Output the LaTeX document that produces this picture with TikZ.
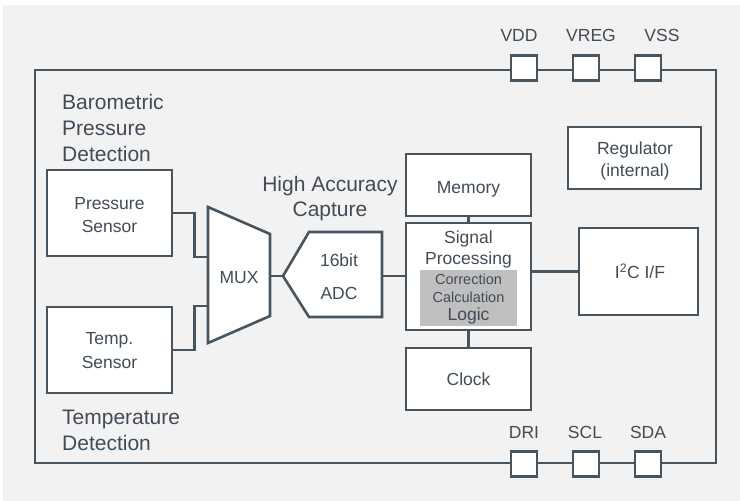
\documentclass[tikz,border=0pt]{standalone}
\usepackage{fontspec}
\setmainfont{Liberation Sans}
\definecolor{ink}{HTML}{48545E}
\definecolor{txt}{HTML}{424C56}
\definecolor{bg}{HTML}{F2F2F2}
\definecolor{logicfill}{HTML}{BFBFBF}
\begin{document}
\begin{tikzpicture}[x=1pt,y=-1pt,
  every node/.style={text=txt, inner sep=0pt},
  % text nodes are placed by the centre of their capital letters
  tx/.style={font=\fontsize{17.5}{23}\selectfont, anchor=base, yshift=-6.3pt},
  tl/.style={font=\fontsize{21}{26}\selectfont, anchor=base, yshift=-7.5pt},
  tlw/.style={tl, anchor=base west},
  ts/.style={font=\fontsize{14.5}{18}\selectfont, anchor=base, yshift=-5.2pt},
  blk/.style={draw=ink, line width=2.6pt, fill=white},
  padbox/.style={draw=ink, line width=2.6pt, fill=white, minimum width=26pt, minimum height=25pt},
  wire/.style={draw=ink, line width=2.6pt}
]
\useasboundingbox (0,0) rectangle (740,501);
\fill[bg] (3,5) rectangle (740,501);

% chip outline
\draw[ink, line width=2.8pt] (35,70) rectangle (716,463);

% supply pads (top edge)
\node[padbox] (vdd) at (524,68) {};
\node[padbox] (vreg) at (586,68) {};
\node[padbox] (vss) at (648,68) {};
\node[tx] (vddl) at (519,35) {VDD};
\node[tx] (vregl) at (591,35) {VREG};
\node[tx] (vssl) at (662,35) {VSS};

% interface pads (bottom edge)
\node[padbox] (dri) at (524,464) {};
\node[padbox] (scl) at (586,464) {};
\node[padbox] (sda) at (648,464) {};
\node[tx] (dril) at (524,432) {DRI};
\node[tx] (scll) at (585,432) {SCL};
\node[tx] (sdal) at (648,432) {SDA};

% region labels
\node[tlw] (bar1) at (62,102) {Barometric};
\node[tlw] (bar2) at (62,128) {Pressure};
\node[tlw] (bar3) at (62,154) {Detection};
\node[tlw] (tmp1) at (62,417) {Temperature};
\node[tlw] (tmp2) at (62,443) {Detection};
\node[tl] (hac1) at (330,184) {High Accuracy};
\node[tl] (hac2) at (330,209) {Capture};

% sensors
\node[blk, minimum width=125pt, minimum height=86pt] (ps) at (109.5,213) {};
\node[tx] (ps1) at (109.5,203) {Pressure};
\node[tx] (ps2) at (109.5,226) {Sensor};
\node[blk, minimum width=125pt, minimum height=86pt] (tsn) at (109.5,350) {};
\node[tx] (ts1) at (109.5,338) {Temp.};
\node[tx] (ts2) at (109.5,362) {Sensor};

% multiplexer
\coordinate (muxa) at (208,257);
\coordinate (muxb) at (208,306);
\coordinate (muxo) at (270,276);
\draw[ink, line width=2.6pt, fill=white, line join=miter] (208,207) -- (270,234) -- (270,316) -- (208,343) -- cycle;
\node[tx] (muxl) at (239,277) {MUX};

% ADC
\coordinate (adci) at (283,276);
\coordinate (adco) at (382,276);
\draw[ink, line width=2.6pt, fill=white, line join=miter] (adci) -- (309,232) -- (382,232) -- (382,317) -- (309,317) -- cycle;
\node[tx] (adc1) at (339,260) {16bit};
\node[tx] (adc2) at (339,293) {ADC};

% digital blocks
\node[blk, minimum width=125pt, minimum height=62pt] (mem) at (468.5,185) {};
\node[tx] (meml) at (468.5,187) {Memory};
\node[blk, minimum width=125pt, minimum height=107pt] (sp) at (468.5,276.5) {};
\node[fill=logicfill, minimum width=97pt, minimum height=56pt] (logic) at (468.5,298) {};
\node[tx] (sp1) at (468.5,237) {Signal};
\node[tx] (sp2) at (468.5,258) {Processing};
\node[ts] (lg1) at (468.5,279) {Correction};
\node[ts] (lg2) at (468.5,297) {Calculation};
\node[tx] (lg3) at (468.5,314) {Logic};
\node[blk, minimum width=125pt, minimum height=62pt] (clk) at (468.5,379) {};
\node[tx] (clkl) at (468.5,379) {Clock};
\node[blk, minimum width=119pt, minimum height=87pt] (i2c) at (638.5,271.5) {};
\node[tx] (i2cl) at (640,272) {I\textsuperscript{2}C I/F};
\node[blk, minimum width=133pt, minimum height=62pt] (reg) at (634.5,158) {};
\node[tx] (reg1) at (635,148) {Regulator};
\node[tx] (reg2) at (635,170) {(internal)};

% connections
\draw[wire] (ps.east) -- ++(21,0) |- (muxa);
\draw[wire] (tsn.east) -- ++(21,0) |- (muxb);
\draw[wire] (muxo) -- (adci);
\draw[wire] (adco) -- (adco -| sp.west);
\draw[wire] (mem.south) -- (sp.north);
\draw[wire] (sp.south) -- (clk.north);
\draw[wire] (i2c.west -| sp.east) -- (i2c.west);
\end{tikzpicture}
\end{document}
